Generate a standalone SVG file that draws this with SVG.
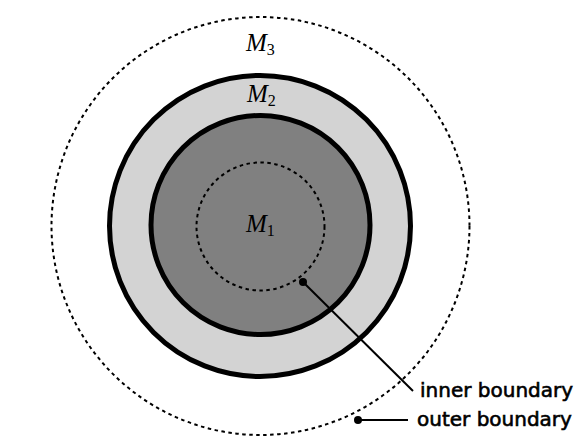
<svg xmlns="http://www.w3.org/2000/svg" width="579" height="444" viewBox="0 0 579 444">
<style>
.dot{fill:none;stroke:#000;stroke-width:2;stroke-dasharray:3.5 3.5}
.ring{stroke:#000;stroke-width:5}
.m{font-family:"Liberation Serif",serif;font-style:italic;font-size:25px;fill:#000}
.sub{font-size:16px;font-style:normal}
.lbl{font-family:"DejaVu Sans",sans-serif;font-size:20px;fill:#000;stroke:#000;stroke-width:0.6}
.lead{stroke:#000;stroke-width:2;fill:none}
</style>
<rect width="579" height="444" fill="#fff"/>
<g id="outer-region">
<circle class="dot" cx="260.5" cy="226" r="209"/>
<text class="m" x="246" y="51">M<tspan class="sub" dy="4">3</tspan></text>
</g>
<g id="m2-region">
<circle class="ring" cx="260" cy="226" r="150.5" fill="#d3d3d3"/>
<text class="m" x="247" y="102">M<tspan class="sub" dy="4">2</tspan></text>
</g>
<g id="m1-region">
<circle class="ring" cx="260.5" cy="225" r="109.5" fill="#808080"/>
<circle class="dot" cx="260.5" cy="226.5" r="64"/>
<text class="m" x="246" y="232">M<tspan class="sub" dy="4">1</tspan></text>
</g>
<g id="connectors">
<circle cx="303" cy="282" r="4" fill="#000"/>
<line class="lead" x1="303" y1="282" x2="413" y2="391"/>
<circle cx="358" cy="420" r="4" fill="#000"/>
<line class="lead" x1="358" y1="420" x2="408" y2="420"/>
</g>
<g id="labels">
<text class="lbl" x="420" y="397">inner boundary</text>
<text class="lbl" x="417" y="426">outer boundary</text>
</g>
</svg>
